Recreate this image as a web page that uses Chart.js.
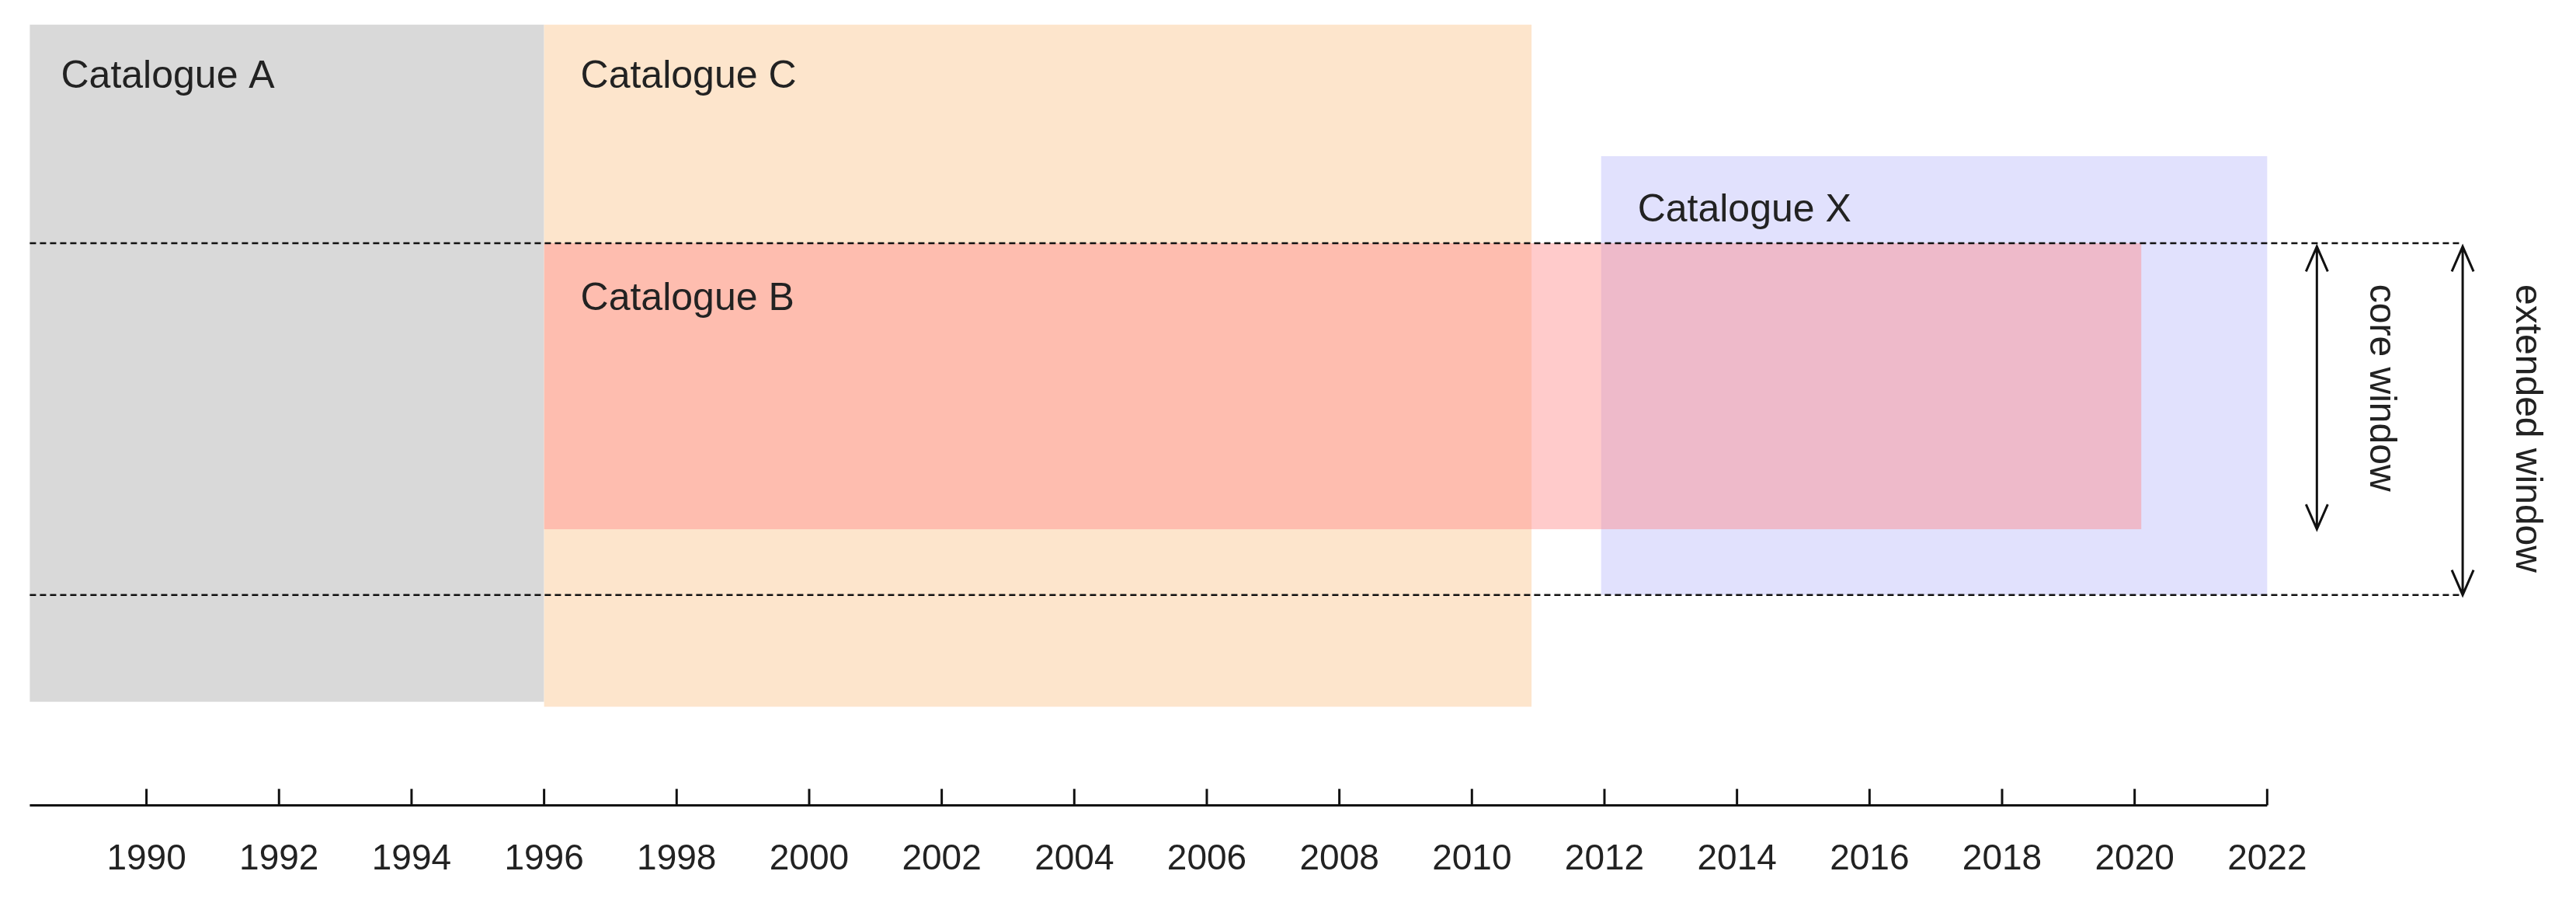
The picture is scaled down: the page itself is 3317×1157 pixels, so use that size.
<!DOCTYPE html>
<html>
<head>
<meta charset="utf-8">
<script src="https://cdn.jsdelivr.net/npm/chart.js@4/dist/chart.umd.min.js"></script>
<style>
  html, body { margin: 0; padding: 0; background: #fff; }
  #wrap { width: 3317px; height: 1157px; }
</style>
</head>
<body>
<div id="wrap"><canvas id="grafico"></canvas></div>
<script>
// catalogues: start year, end year, top, bottom (y in chart units, 0 = top)
const catalogos = ['Catalogue A', 'Catalogue C', 'Catalogue X', 'Catalogue B'];
const inicio = [1988.24, 1996.0, 2011.95, 1996.0];
const fim = [1996.0, 2010.9, 2022.0, 2020.1];
const topo = [15, 15, 95, 148];
const base = [427, 430, 362, 322];
const cores = ['#d9d9d9', '#fde5cc', '#e1e1fd', 'rgba(255,140,140,0.45)'];

const anos = [1990, 1992, 1994, 1996, 1998, 2000, 2002, 2004, 2006, 2008, 2010, 2012, 2014, 2016, 2018, 2020, 2022];
const janelas = ['core window', 'extended window'];
const janelaAno = [2022.75, 2024.95];
const janelaTopo = [150, 150];
const janelaBase = [322, 362];
const tracejado = [148, 362];

const fonte = '"Liberation Sans", Arial, sans-serif';

const desenho = {
    id: 'desenho',
    beforeDatasetsDraw(chart) {
        const ctx = chart.ctx;
        const x = chart.scales.x, y = chart.scales.y;
        ctx.save();
        catalogos.forEach((nome, i) => {
            const x0 = x.getPixelForValue(inicio[i]), x1 = x.getPixelForValue(fim[i]);
            const y0 = y.getPixelForValue(topo[i]), y1 = y.getPixelForValue(base[i]);
            ctx.fillStyle = cores[i];
            ctx.fillRect(x0, y0, x1 - x0, y1 - y0);
        });
        ctx.fillStyle = '#222';
        ctx.font = '50px ' + fonte;
        ctx.textBaseline = 'middle';
        catalogos.forEach((nome, i) => {
            const off = i === 0 ? 0.47 : 0.55;
            const dy = i === 2 ? 33 : (i === 3 ? 34 : 32);
            ctx.fillText(nome, x.getPixelForValue(inicio[i] + off), y.getPixelForValue(topo[i] + dy));
        });
        // dashed lines
        ctx.strokeStyle = '#111';
        ctx.lineWidth = 2.5;
        ctx.setLineDash([8, 5]);
        tracejado.forEach(v => {
            ctx.beginPath();
            ctx.moveTo(x.getPixelForValue(1988.24), y.getPixelForValue(v));
            ctx.lineTo(x.getPixelForValue(2024.95), y.getPixelForValue(v));
            ctx.stroke();
        });
        ctx.setLineDash([]);
        // arrows
        ctx.lineWidth = 3;
        janelas.forEach((nome, i) => {
            const ax = x.getPixelForValue(janelaAno[i]);
            const a0 = y.getPixelForValue(janelaTopo[i]), a1 = y.getPixelForValue(janelaBase[i]);
            ctx.beginPath();
            ctx.moveTo(ax, a0); ctx.lineTo(ax, a1);
            ctx.moveTo(ax - 14, a0 + 32); ctx.lineTo(ax, a0); ctx.lineTo(ax + 14, a0 + 32);
            ctx.moveTo(ax - 14, a1 - 32); ctx.lineTo(ax, a1); ctx.lineTo(ax + 14, a1 - 32);
            ctx.stroke();
            ctx.save();
            ctx.translate(ax + 82, (a0 + a1) / 2 + (i === 1 ? 10 : 0));
            ctx.rotate(Math.PI / 2);
            ctx.textAlign = 'center';
            ctx.fillStyle = '#222';
            ctx.font = '48px ' + fonte;
            ctx.fillText(nome, 0, 0);
            ctx.restore();
        });
        // axis
        const ya = y.getPixelForValue(490);
        ctx.lineWidth = 3;
        ctx.beginPath();
        ctx.moveTo(x.getPixelForValue(1988.24), ya);
        ctx.lineTo(x.getPixelForValue(2022), ya);
        ctx.stroke();
        ctx.font = '46px ' + fonte;
        ctx.textAlign = 'center';
        ctx.textBaseline = 'middle';
        anos.forEach(a => {
            const px = x.getPixelForValue(a);
            ctx.beginPath();
            ctx.moveTo(px, ya); ctx.lineTo(px, y.getPixelForValue(480));
            ctx.stroke();
            ctx.fillText(String(a), px, y.getPixelForValue(523));
        });
        ctx.restore();
    }
};

new Chart(document.getElementById('grafico'), {
    type: 'scatter',
    data: { datasets: [{ data: [], pointRadius: 0 }] },
    options: {
        responsive: true,
        maintainAspectRatio: false,
        animation: false,
        layout: { padding: 0 },
        plugins: { legend: { display: false }, tooltip: { enabled: false } },
        scales: {
            x: { type: 'linear', min: 1987.79, max: 2026.66, display: false },
            y: { type: 'linear', min: 0, max: 547, reverse: true, display: false }
        }
    },
    plugins: [desenho]
});
</script>
</body>
</html>
